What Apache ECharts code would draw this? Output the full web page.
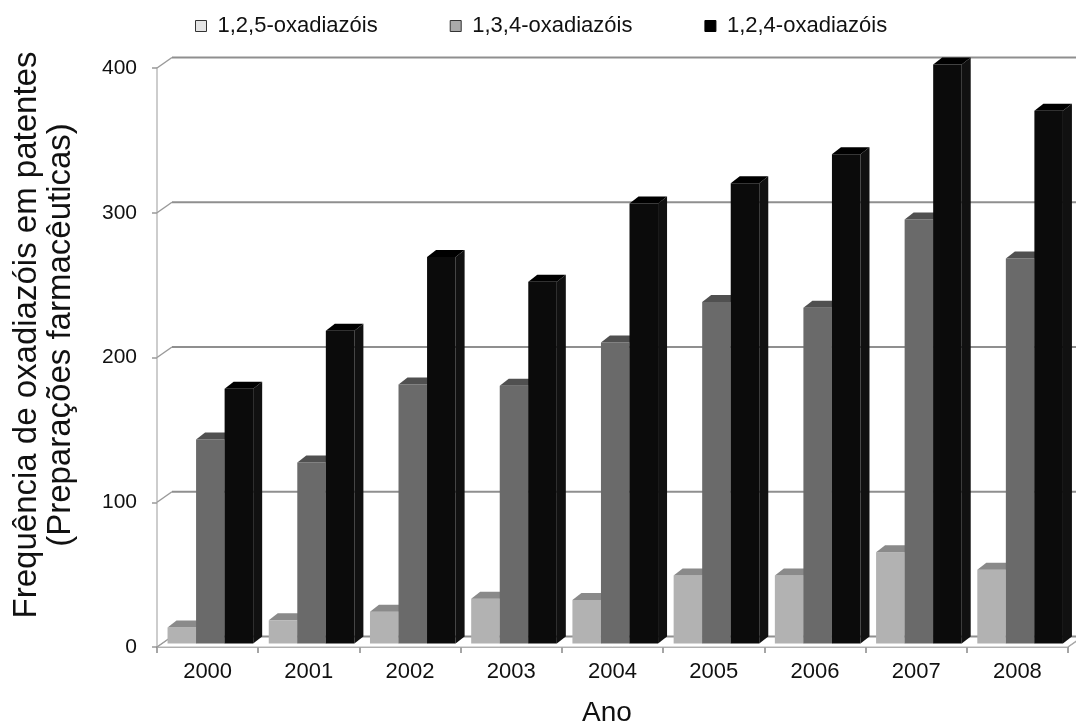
<!DOCTYPE html>
<html>
<head>
<meta charset="utf-8">
<script src="https://cdn.jsdelivr.net/npm/echarts@6/dist/echarts.min.js"></script>
<style>html,body{margin:0;padding:0;background:#fff;}#c{width:1076px;height:728px;}</style>
</head>
<body>
<div id="c"></div>
<script>
var years = ['2000','2001','2002','2003','2004','2005','2006','2007','2008'];
var seriesNames = ['1,2,5-oxadiazóis','1,3,4-oxadiazóis','1,2,4-oxadiazóis'];
var v125 = [11, 16, 22, 31, 30, 47, 47, 63, 51];
var v134 = [141, 125, 179, 178, 208, 236, 232, 293, 266];
var v124 = [176, 216, 267, 250, 304, 318, 338, 400, 368];
var yTicks = [0, 100, 200, 300, 400];

var FONT = 'Liberation Sans, Arial, sans-serif';
var DEPTH_X = 15, DEPTH_Y = -10.5;   // back wall offset
var BAR_DX = 9, BAR_DY = -7;         // bar depth
var BAR_SHIFT_Y = -3.5;

function barRender(k, front, top, side) {
  return function (params, api) {
    var c = api.value(0), v = api.value(1);
    var p0 = api.coord([c, 0]), p1 = api.coord([c, v]);
    var bw = api.size([1, 0])[0];
    var w = bw * 0.282;
    var x0 = p0[0] - bw / 2 + bw * 0.104 + k * w;
    var yb = p0[1] + BAR_SHIFT_Y, yt = p1[1] + BAR_SHIFT_Y;
    return {
      type: 'group',
      children: [
        {type: 'polygon', shape: {points: [[x0 + w, yb], [x0 + w + BAR_DX, yb + BAR_DY], [x0 + w + BAR_DX, yt + BAR_DY], [x0 + w, yt]]}, style: {fill: side}},
        {type: 'rect', shape: {x: x0, y: yt, width: w, height: yb - yt}, style: {fill: front}},
        {type: 'polygon', shape: {points: [[x0, yt], [x0 + BAR_DX, yt + BAR_DY], [x0 + w + BAR_DX, yt + BAR_DY], [x0 + w, yt]]}, style: {fill: top}}
      ]
    };
  };
}

function gridRender(params, api) {
  var v = api.value(1);
  var bw = api.size([1, 0])[0];
  var pl = api.coord([0, v]), pr = api.coord([years.length - 1, v]);
  var xl = pl[0] - bw / 2, xr = pr[0] + bw / 2, y = pl[1];
  var children = [
    {type: 'line', shape: {x1: xl, y1: y, x2: xl + DEPTH_X, y2: y + DEPTH_Y}, style: {stroke: '#9a9a9a', lineWidth: 1.5}},
    {type: 'line', shape: {x1: xl + DEPTH_X, y1: y + DEPTH_Y, x2: xr + DEPTH_X, y2: y + DEPTH_Y}, style: {stroke: '#8f8f8f', lineWidth: 2}}
  ];
  if (v === 0) {
    children.unshift({type: 'polygon', shape: {points: [[xl, y], [xl + DEPTH_X, y + DEPTH_Y], [xr + DEPTH_X, y + DEPTH_Y], [xr, y]]}, style: {fill: '#ffffff', stroke: '#b5b5b5', lineWidth: 1}});
    children.push({type: 'line', shape: {x1: xr, y1: y, x2: xr + DEPTH_X, y2: y + DEPTH_Y}, style: {stroke: '#a8a8a8', lineWidth: 1.5}});
  }
  return {type: 'group', children: children};
}

var chart = echarts.init(document.getElementById('c'), null, {renderer: 'canvas'});
var legendStyles = [
  {color: '#e4e4e4', borderColor: '#333', borderWidth: 1},
  {color: '#a9a9a9', borderColor: '#333', borderWidth: 1},
  {color: '#000000', borderColor: '#000', borderWidth: 1}
];
chart.setOption({
  backgroundColor: '#ffffff',
  animation: false,
  grid: {left: 157, right: 8, top: 68, bottom: 81, containLabel: false, outerBoundsMode: 'none'},
  legend: {
    left: 190, top: 10, itemWidth: 11, itemHeight: 11, itemGap: 72,
    icon: 'rect',
    textStyle: {fontFamily: FONT, fontSize: 22, color: '#111', padding: [0, 0, 0, 6]},
    data: seriesNames.map(function (n, i) { return {name: n, itemStyle: legendStyles[i]}; })
  },
  xAxis: {
    type: 'category', data: years, boundaryGap: true,
    axisLine: {show: true, lineStyle: {color: '#a8a8a8', width: 2}},
    axisTick: {show: true, alignWithLabel: false, length: 6, lineStyle: {color: '#888', width: 1.5}},
    axisLabel: {fontFamily: FONT, fontSize: 22, color: '#111', margin: 14},
    splitLine: {show: false}
  },
  yAxis: {
    type: 'value', min: 0, max: 400, interval: 100,
    axisLine: {show: true, lineStyle: {color: '#bdbdbd', width: 1.5}},
    axisTick: {show: true, length: 5, lineStyle: {color: '#999', width: 1.5}},
    axisLabel: {fontFamily: FONT, fontSize: 21, color: '#111', margin: 20},
    splitLine: {show: false}
  },
  graphic: [
    {type: 'text', x: 44, y: 335, rotation: Math.PI / 2, z: 10,
      style: {text: 'Frequência de oxadiazóis em patentes\n(Preparações farmacêuticas)', fontFamily: FONT, fontSize: 33, lineHeight: 34, fill: '#111', textAlign: 'center', textVerticalAlign: 'middle'}},
    {type: 'text', x: 607, y: 713, z: 10,
      style: {text: 'Ano', fontFamily: FONT, fontSize: 28, fill: '#111', textAlign: 'center', textVerticalAlign: 'middle'}}
  ],
  series: [
    {type: 'custom', name: 'grid3d', z: 1, clip: false, silent: true, renderItem: gridRender,
      data: yTicks.map(function (t) { return [0, t]; }), encode: {x: 0, y: 1}},
    {type: 'custom', name: seriesNames[0], z: 3, clip: false, itemStyle: {color: '#b2b2b2'},
      renderItem: barRender(0, '#b2b2b2', '#8a8a8a', '#9a9a9a'),
      data: v125.map(function (v, i) { return [i, v]; }), encode: {x: 0, y: 1}},
    {type: 'custom', name: seriesNames[1], z: 3, clip: false, itemStyle: {color: '#6a6a6a'},
      renderItem: barRender(1, '#6a6a6a', '#505050', '#5a5a5a'),
      data: v134.map(function (v, i) { return [i, v]; }), encode: {x: 0, y: 1}},
    {type: 'custom', name: seriesNames[2], z: 3, clip: false, itemStyle: {color: '#0b0b0b'},
      renderItem: barRender(2, '#0b0b0b', '#000000', '#111111'),
      data: v124.map(function (v, i) { return [i, v]; }), encode: {x: 0, y: 1}}
  ]
});
</script>
</body>
</html>
